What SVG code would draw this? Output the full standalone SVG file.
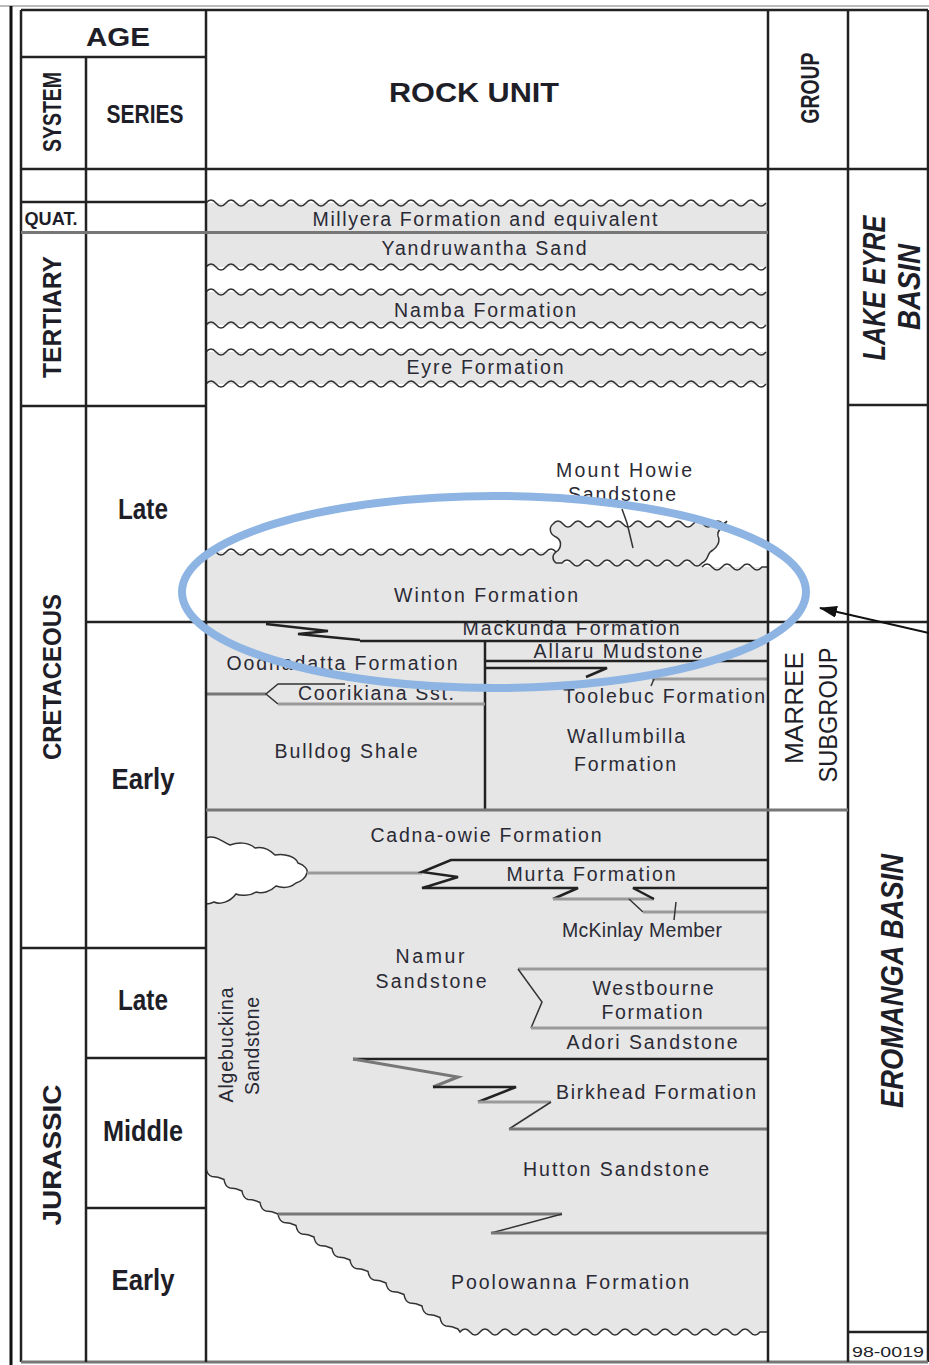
<svg xmlns="http://www.w3.org/2000/svg" width="929" height="1365" viewBox="0 0 929 1365">
<style>
text{font-family:"Liberation Sans",Arial,sans-serif;text-anchor:middle;fill:#1e1e28}
.hdr{font-weight:bold}
.ser{font-weight:bold;font-size:29px}
.fm{font-size:19.5px;fill:#2a2a35}
.bas{font-weight:bold;font-style:italic}
.ln{stroke:#222;stroke-width:2.5;fill:none}
.gl{stroke:#9a9a9a;stroke-width:3;fill:none}
.dg{stroke:#777;stroke-width:3;fill:none}
.th{stroke:#333;stroke-width:1.5;fill:none}
.fill{fill:#e6e6e6}
</style>
<defs>
<path id="w56" fill="none" stroke="#333" stroke-width="1.5" d="M0 0q5 -6 10 0t10 0t10 0t10 0t10 0t10 0t10 0t10 0t10 0t10 0t10 0t10 0t10 0t10 0t10 0t10 0t10 0t10 0t10 0t10 0t10 0t10 0t10 0t10 0t10 0t10 0t10 0t10 0t10 0t10 0t10 0t10 0t10 0t10 0t10 0t10 0t10 0t10 0t10 0t10 0t10 0t10 0t10 0t10 0t10 0t10 0t10 0t10 0t10 0t10 0t10 0t10 0t10 0t10 0t10 0t10 0"/>
<marker id="ah" markerUnits="userSpaceOnUse" markerWidth="18" markerHeight="12" refX="17" refY="6" orient="auto"><path d="M0 0L18 6L0 12Z" fill="#111"/></marker>
</defs>

<g id="tertiary-units">
<rect class="fill" x="206" y="203" width="562" height="64"/>
<rect class="fill" x="206" y="292" width="562" height="33"/>
<rect class="fill" x="206" y="352" width="562" height="32"/>
<use href="#w56" x="206" y="203"/>
<use href="#w56" x="206" y="267"/>
<use href="#w56" x="206" y="292"/>
<use href="#w56" x="206" y="325"/>
<use href="#w56" x="206" y="352"/>
<use href="#w56" x="206" y="384"/>
<text class="fm" x="485" y="226" textLength="345" lengthAdjust="spacing">Millyera Formation and equivalent</text>
<text class="fm" x="484" y="255" textLength="205" lengthAdjust="spacing">Yandruwantha Sand</text>
<text class="fm" x="485" y="317" textLength="182" lengthAdjust="spacing">Namba Formation</text>
<text class="fm" x="485" y="374" textLength="157" lengthAdjust="spacing">Eyre Formation</text>
</g>

<g id="winton">
<path class="fill" d="M206 552H560V563H702V567H768V622H206Z"/>
<path class="fill" stroke="#333" stroke-width="1.5" d="M556 563C552 560 552 555 556 552C562 548 562 540 556 537C549 534 549 527 553 524q5 -6 10 0t10 0t10 0t10 0t10 0t10 0t10 0t10 0t10 0t10 0t10 0t10 0t10 0t10 0t10 0t10 0t10 0L727 521C724 527 716 530 718 536C721 542 716 548 713 550C706 553 710 559 702 563q-5 6 -10 0t-10 0t-10 0t-10 0t-10 0t-10 0t-10 0t-10 0t-10 0t-10 0t-10 0t-10 0t-10 0t-10 0L556 563Z"/>
<path class="th" d="M206 552q5 -6 10 0t10 0t10 0t10 0t10 0t10 0t10 0t10 0t10 0t10 0t10 0t10 0t10 0t10 0t10 0t10 0t10 0t10 0t10 0t10 0t10 0t10 0t10 0t10 0t10 0t10 0t10 0t10 0t10 0t10 0t10 0t10 0t10 0t10 0t10 0"/>
<path class="th" d="M702 567q5 -6 10 0t10 0t10 0t10 0t10 0t10 0l6 0"/>
<path class="th" d="M622 509L627 523L633 548"/>
<text class="fm" x="624" y="477" textLength="136" lengthAdjust="spacing">Mount Howie</text>
<text class="fm" x="622" y="501" textLength="108" lengthAdjust="spacing">Sandstone</text>
<text class="fm" x="486" y="602" textLength="184" lengthAdjust="spacing">Winton Formation</text>
</g>

<g id="early-cretaceous-units">
<rect class="fill" x="206" y="622" width="562" height="188"/>
<polyline class="ln" points="266,624 328,631 298,634 360,640"/>
<line class="ln" x1="360" y1="641" x2="768" y2="641"/>
<line class="ln" x1="485" y1="641" x2="485" y2="810"/>
<line class="ln" x1="485" y1="661" x2="768" y2="661"/>
<polyline class="ln" points="485,668 607,668 586,677"/>
<line class="gl" x1="652" y1="679" x2="768" y2="679"/>
<line class="th" x1="654" y1="679" x2="651" y2="686"/>
<line class="dg" x1="206" y1="694" x2="266" y2="694"/>
<polyline class="th" stroke-width="2" points="345,684 278,684 266,694 278,704"/>
<line class="gl" x1="278" y1="704" x2="485" y2="704"/>
<text class="fm" x="571" y="635" font-size="18.5" textLength="217" lengthAdjust="spacing">Mackunda Formation</text>
<text class="fm" x="618" y="658" font-size="18.5" textLength="169" lengthAdjust="spacing">Allaru Mudstone</text>
<text class="fm" x="342" y="670" textLength="231" lengthAdjust="spacing">Oodnadatta Formation</text>
<text class="fm" x="376" y="700" textLength="156" lengthAdjust="spacing">Coorikiana Sst.</text>
<text class="fm" x="664" y="703" textLength="202" lengthAdjust="spacing">Toolebuc Formation</text>
<text class="fm" x="346" y="758" textLength="143" lengthAdjust="spacing">Bulldog Shale</text>
<text class="fm" x="626" y="743" textLength="118" lengthAdjust="spacing">Wallumbilla</text>
<text class="fm" x="625" y="771" textLength="102" lengthAdjust="spacing">Formation</text>
</g>

<g id="lower-units">
<path class="fill" d="M206 1168q1 7 6 8.5q6 0 12 3q1 7 6 8.5q6 0 12 3q1 7 6 8.5q6 0 12 3q1 7 6 8.5q6 0 12 3q1 7 6 8.5q6 0 12 3q1 7 6 8.5q6 0 12 3q1 7 6 8.5q6 0 12 3q1 7 6 8.5q6 0 12 3q1 7 6 8.5q6 0 12 3q1 7 6 8.5q6 0 12 3q1 7 6 8.5q6 0 12 3q1 7 6 8.5q6 0 12 3q1 7 6 8.5q6 0 12 3q1 7 6 8.5q6 0 12 3l2 3q5 -6 10 0t10 0t10 0t10 0t10 0t10 0t10 0t10 0t10 0t10 0t10 0t10 0t10 0t10 0t10 0t10 0t10 0t10 0t10 0t10 0t10 0t10 0t10 0t10 0t10 0t10 0t10 0t10 0t10 0t10 0l8 0L768 810H206Z"/>
<path class="th" d="M206 1168q1 7 6 8.5q6 0 12 3q1 7 6 8.5q6 0 12 3q1 7 6 8.5q6 0 12 3q1 7 6 8.5q6 0 12 3q1 7 6 8.5q6 0 12 3q1 7 6 8.5q6 0 12 3q1 7 6 8.5q6 0 12 3q1 7 6 8.5q6 0 12 3q1 7 6 8.5q6 0 12 3q1 7 6 8.5q6 0 12 3q1 7 6 8.5q6 0 12 3q1 7 6 8.5q6 0 12 3q1 7 6 8.5q6 0 12 3q1 7 6 8.5q6 0 12 3l2 3q5 -6 10 0t10 0t10 0t10 0t10 0t10 0t10 0t10 0t10 0t10 0t10 0t10 0t10 0t10 0t10 0t10 0t10 0t10 0t10 0t10 0t10 0t10 0t10 0t10 0t10 0t10 0t10 0t10 0t10 0t10 0l8 0"/>
<path fill="#fff" stroke="#333" stroke-width="1.5" d="M206 838C215 834 222 842 230 845C238 842 248 842 255 848C263 846 270 850 275 855C285 853 296 857 298 863C305 865 308 870 307 873C306 878 300 882 296 883C290 888 282 888 276 886C270 892 262 894 256 892C250 896 240 896 236 894C230 902 220 905 214 902C210 904 208 904 206 904Z"/>
<line class="gl" x1="307" y1="873" x2="422" y2="873"/>
<polyline class="ln" points="768,860 451,860 422,872 458,877 429,886 422,888 578,888 553,899"/>
<line class="gl" x1="553" y1="899" x2="654" y2="899"/>
<polyline class="ln" points="654,899 633,888 768,888"/>
<line class="th" x1="629" y1="899" x2="643" y2="912"/>
<line class="gl" x1="643" y1="912" x2="768" y2="912"/>
<line class="th" x1="676" y1="902" x2="674" y2="920"/>
<polyline class="gl" points="768,969 518,969"/>
<polyline class="th" points="518,969 542,1002 531,1028"/>
<polyline class="gl" points="531,1028 768,1028"/>
<line class="ln" x1="353" y1="1059" x2="768" y2="1059"/>
<polyline class="dg" stroke-width="2.5" points="353,1059 458,1077 433,1087"/>
<polyline class="ln" points="433,1087 516,1087 478,1102"/>
<polyline class="gl" points="478,1102 551,1102"/>
<polyline class="th" stroke-width="2" points="551,1102 509,1129"/>
<line class="dg" x1="509" y1="1129" x2="768" y2="1129"/>
<polyline class="dg" points="278,1214 562,1214"/>
<polyline class="th" stroke-width="2" points="562,1214 491,1233"/>
<line class="dg" x1="491" y1="1233" x2="768" y2="1233"/>
<text class="fm" x="486" y="842" textLength="231" lengthAdjust="spacing">Cadna-owie Formation</text>
<text class="fm" x="591" y="881" textLength="169" lengthAdjust="spacing">Murta Formation</text>
<text class="fm" x="642" y="937" textLength="160" lengthAdjust="spacing">McKinlay Member</text>
<text class="fm" x="430" y="963" textLength="69" lengthAdjust="spacing">Namur</text>
<text class="fm" x="431" y="988" textLength="111" lengthAdjust="spacing">Sandstone</text>
<text class="fm" x="653" y="995" textLength="121" lengthAdjust="spacing">Westbourne</text>
<text class="fm" x="652" y="1019" textLength="101" lengthAdjust="spacing">Formation</text>
<text class="fm" x="652" y="1049" textLength="171" lengthAdjust="spacing">Adori Sandstone</text>
<text class="fm" x="656" y="1099" textLength="200" lengthAdjust="spacing">Birkhead Formation</text>
<text class="fm" x="616" y="1176" textLength="186" lengthAdjust="spacing">Hutton Sandstone</text>
<text class="fm" x="570" y="1289" textLength="238" lengthAdjust="spacing">Poolowanna Formation</text>
<text class="fm" transform="translate(233,1045) rotate(-90)" textLength="115" lengthAdjust="spacing">Algebuckina</text>
<text class="fm" transform="translate(259,1046) rotate(-90)" textLength="98" lengthAdjust="spacing">Sandstone</text>
</g>

<g id="grid">
<line x1="0" y1="6" x2="929" y2="6" stroke="#bbb" stroke-width="2"/>
<line x1="11" y1="6" x2="11" y2="1365" stroke="#111" stroke-width="3"/>
<line x1="21" y1="10" x2="21" y2="1362" class="ln"/>
<line x1="21" y1="10" x2="928" y2="10" class="ln"/>
<line x1="928" y1="10" x2="928" y2="1362" class="ln" stroke-width="2"/>
<line x1="21" y1="1362" x2="928" y2="1362" class="dg"/>
<line x1="86" y1="57" x2="86" y2="1362" class="ln"/>
<line x1="206" y1="10" x2="206" y2="1362" class="ln"/>
<line x1="768" y1="10" x2="768" y2="1362" class="ln"/>
<line x1="848" y1="10" x2="848" y2="1362" class="ln"/>
<line x1="21" y1="57" x2="206" y2="57" class="ln"/>
<line x1="21" y1="169" x2="928" y2="169" class="ln"/>
<line x1="21" y1="202" x2="206" y2="202" class="ln"/>
<line x1="21" y1="232.5" x2="768" y2="232.5" class="dg"/>
<line x1="21" y1="406" x2="206" y2="406" class="ln"/>
<line x1="86" y1="622" x2="928" y2="622" class="ln"/>
<line x1="21" y1="948" x2="206" y2="948" class="ln"/>
<line x1="86" y1="1058" x2="206" y2="1058" class="ln"/>
<line x1="86" y1="1208" x2="206" y2="1208" class="ln"/>
<line x1="848" y1="405" x2="928" y2="405" class="ln"/>
<line x1="206" y1="810" x2="848" y2="810" class="dg"/>
<line x1="848" y1="1332" x2="928" y2="1332" class="ln" stroke-width="3"/>
</g>

<g id="header">
<text class="hdr" x="118" y="46" font-size="25" textLength="64" lengthAdjust="spacingAndGlyphs">AGE</text>
<text class="hdr" x="474" y="102" font-size="27" textLength="170" lengthAdjust="spacingAndGlyphs">ROCK UNIT</text>
<text class="hdr" transform="translate(61,112) rotate(-90)" font-size="25" textLength="80" lengthAdjust="spacingAndGlyphs">SYSTEM</text>
<text class="hdr" x="145" y="123" font-size="25" textLength="77" lengthAdjust="spacingAndGlyphs">SERIES</text>
<text class="hdr" transform="translate(819,88) rotate(-90)" font-size="25" textLength="71" lengthAdjust="spacingAndGlyphs">GROUP</text>
</g>

<g id="systems">
<text class="hdr" x="51" y="225" font-size="19" textLength="53" lengthAdjust="spacingAndGlyphs">QUAT.</text>
<text class="hdr" transform="translate(61,317) rotate(-90)" font-size="25" textLength="122" lengthAdjust="spacingAndGlyphs">TERTIARY</text>
<text class="hdr" transform="translate(61,677) rotate(-90)" font-size="25" textLength="166" lengthAdjust="spacingAndGlyphs">CRETACEOUS</text>
<text class="hdr" transform="translate(61,1155) rotate(-90)" font-size="25" textLength="141" lengthAdjust="spacingAndGlyphs">JURASSIC</text>
</g>

<g id="series">
<text class="ser" x="143" y="519" textLength="50" lengthAdjust="spacingAndGlyphs">Late</text>
<text class="ser" x="143" y="789" textLength="63" lengthAdjust="spacingAndGlyphs">Early</text>
<text class="ser" x="143" y="1010" textLength="50" lengthAdjust="spacingAndGlyphs">Late</text>
<text class="ser" x="143" y="1141" textLength="80" lengthAdjust="spacingAndGlyphs">Middle</text>
<text class="ser" x="143" y="1290" textLength="63" lengthAdjust="spacingAndGlyphs">Early</text>
</g>

<g id="groups">
<text transform="translate(803,708) rotate(-90)" font-size="25" textLength="112" lengthAdjust="spacingAndGlyphs">MARREE</text>
<text transform="translate(837,715) rotate(-90)" font-size="25" textLength="135" lengthAdjust="spacingAndGlyphs">SUBGROUP</text>
</g>

<g id="basins">
<text class="bas" transform="translate(885,288) rotate(-90)" font-size="31" textLength="145" lengthAdjust="spacingAndGlyphs">LAKE EYRE</text>
<text class="bas" transform="translate(920,287) rotate(-90)" font-size="31" textLength="86" lengthAdjust="spacingAndGlyphs">BASIN</text>
<text class="bas" transform="translate(903,981) rotate(-90)" font-size="32" textLength="254" lengthAdjust="spacingAndGlyphs">EROMANGA BASIN</text>
<text x="888" y="1357" font-size="14" textLength="72" lengthAdjust="spacingAndGlyphs">98-0019</text>
</g>

<g id="highlight">
<ellipse cx="494" cy="592" rx="312" ry="96" fill="none" stroke="#8db4e2" stroke-width="8"/>
</g>

<g id="connectors">
<line x1="929" y1="633" x2="820" y2="608" stroke="#111" stroke-width="2" marker-end="url(#ah)"/>
</g>
</svg>
